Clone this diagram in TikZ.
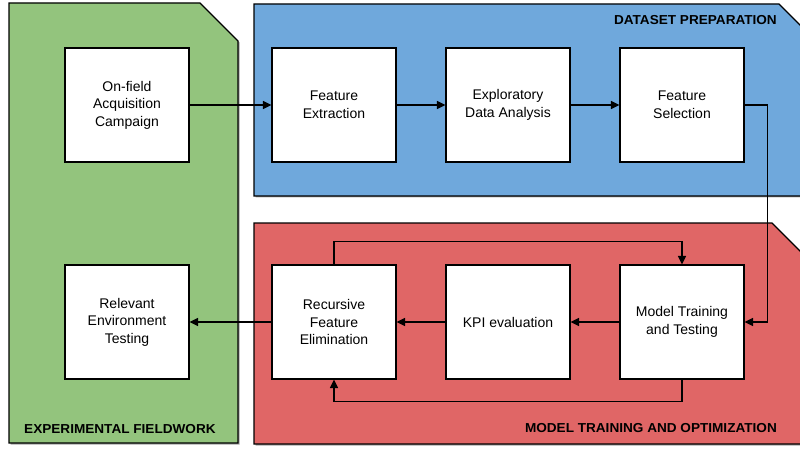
\documentclass[tikz,border=0pt]{standalone}
\usepackage{fontspec}
\setmainfont{Liberation Sans}
\usetikzlibrary{arrows.meta,shadows}
\definecolor{fieldgreen}{HTML}{93C47D}
\definecolor{prepblue}{HTML}{6FA8DC}
\definecolor{trainred}{HTML}{E06666}
\newcommand{\widetitle}[1]{\scalebox{1.045}[1]{#1}}
\tikzset{
  panel/.style={draw=black, line width=1.2pt,
    drop shadow={shadow xshift=1.5pt, shadow yshift=-1.5pt, fill=black, opacity=0.35}},
  stepbox/.style={draw=black, fill=white, line width=1.2pt,
    minimum width=124pt, minimum height=114pt, align=center,
    font=\fontsize{14}{17.5}\selectfont, inner sep=2pt},
  paneltitle/.style={font=\fontsize{13}{15}\selectfont\bfseries, inner sep=0pt},
  arr/.style={draw=black, line width=1.3pt, -{Triangle[length=8.5pt,width=8pt]}}
}
\begin{document}
\begin{tikzpicture}[x=1pt,y=-1pt]
\useasboundingbox (0,0) rectangle (800,449);
\clip (0,0) rectangle (800,449);
\fill[white] (0,0) rectangle (800,449);

% background panels
\path[panel, fill=fieldgreen] (9,3) -- (200,3) -- (238,41) -- (238,443) -- (9,443) -- cycle;
\path[panel, fill=prepblue] (254,4) -- (779,4) -- (817,42) -- (817,196) -- (254,196) -- cycle;
\path[panel, fill=trainred] (254,223) -- (772,223) -- (810,261) -- (810,444) -- (254,444) -- cycle;

% panel titles
\node[paneltitle, anchor=east] (tprep) at (777,20) {\widetitle{DATASET PREPARATION}};
\node[paneltitle, anchor=east] (ttrain) at (777,428) {\widetitle{MODEL TRAINING AND OPTIMIZATION}};
\node[paneltitle, anchor=west] (tfield) at (24,429) {\widetitle{EXPERIMENTAL FIELDWORK}};

% process steps
\node[stepbox] (onfield) at (127,105) {On-field\\Acquisition\\Campaign};
\node[stepbox] (fext) at (334,105) {Feature\\Extraction};
\node[stepbox] (eda) at (508,105) {Exploratory\\Data Analysis};
\node[stepbox] (fsel) at (682,105) {Feature\\Selection};
\node[stepbox] (relev) at (127,322) {Relevant\\Environment\\Testing};
\node[stepbox] (rfe) at (334,322) {Recursive\\Feature\\Elimination};
\node[stepbox] (kpi) at (508,322) {KPI evaluation};
\node[stepbox] (model) at (682,322) {Model Training\\and Testing};

% connectors
\draw[arr] (onfield.east) -- (fext.west);
\draw[arr] (fext.east) -- (eda.west);
\draw[arr] (eda.east) -- (fsel.west);
\draw[arr] (fsel.east) -- ++(23,0) |- (model.east);
\draw[arr] (model.west) -- (kpi.east);
\draw[arr] (kpi.west) -- (rfe.east);
\draw[arr] (rfe.west) -- (relev.east);
\draw[arr] (rfe.north) -- ++(0,-23) -| (model.north);
\draw[arr] (model.south) -- ++(0,22) -| (rfe.south);
\end{tikzpicture}
\end{document}
